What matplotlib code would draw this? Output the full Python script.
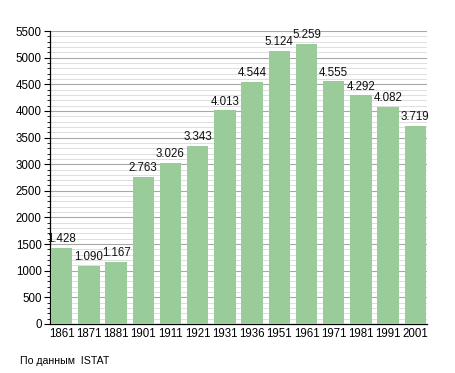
import matplotlib
matplotlib.use("Agg")
import matplotlib.pyplot as plt
from matplotlib.ticker import MultipleLocator

years = ["1861", "1871", "1881", "1901", "1911", "1921", "1931", "1936",
         "1951", "1961", "1971", "1981", "1991", "2001"]
population = [1428, 1090, 1167, 2763, 3026, 3343, 4013, 4544,
              5124, 5259, 4555, 4292, 4082, 3719]
source_note = "По данным  ISTAT"

plt.rcParams['font.family'] = ['Liberation Sans', 'DejaVu Sans']

fig = plt.figure(figsize=(4.55, 3.73), dpi=100)
ax = fig.add_axes([50/455, 1-324/373, 377/455, 293/373])

x = list(range(len(years)))
w = 0.78
ax.bar(x, population, width=w, color="#99cc99", zorder=3)

for xi, v in zip(x, population):
    lab = f"{v:,}".replace(",", ".")
    ax.text(xi, v + 50, lab, ha="center", va="bottom", fontsize=8.3, color="#111111", zorder=4)

ax.set_ylim(0, 5500)
ax.set_xlim(-w/2 - 0.04, len(years) - 1 + w/2 + 0.04)
ax.yaxis.set_major_locator(MultipleLocator(500))
ax.yaxis.set_minor_locator(MultipleLocator(100))
ax.grid(axis="y", which="major", color="#a8a8a8", linewidth=0.8, zorder=1)
ax.grid(axis="y", which="minor", color="#dedede", linewidth=0.7, zorder=0)
ax.set_xticks(x)
ax.set_xticklabels(years)
ax.tick_params(axis="x", length=0, labelsize=8.3, pad=3)
ax.tick_params(axis="y", which="major", length=4, width=0.8, labelsize=8.3, direction="out", pad=2)
ax.tick_params(axis="y", which="minor", length=2, width=0.6, direction="out")
for s in ["top", "right"]:
    ax.spines[s].set_visible(False)
ax.spines["left"].set_color("black")
ax.spines["bottom"].set_color("black")
ax.spines["left"].set_linewidth(0.9)
ax.spines["bottom"].set_linewidth(0.9)

fig.text(20/455, 1-361/373, source_note, fontsize=7.6, va="center", ha="left")

fig.savefig("out.png", dpi=100)
